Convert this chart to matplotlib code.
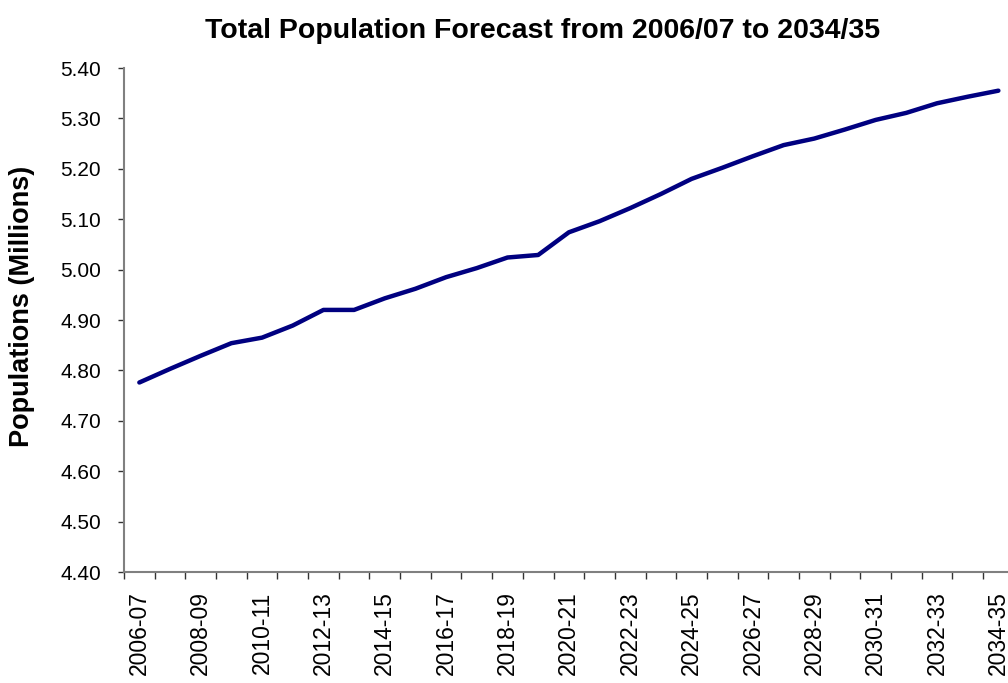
import numpy as np
import matplotlib
matplotlib.use("Agg")
import matplotlib.pyplot as plt
from matplotlib.ticker import FixedLocator, FixedFormatter

##### DATA #####
years = ["2006-07", "2007-08", "2008-09", "2009-10", "2010-11", "2011-12",
         "2012-13", "2013-14", "2014-15", "2015-16", "2016-17", "2017-18",
         "2018-19", "2019-20", "2020-21", "2021-22", "2022-23", "2023-24",
         "2024-25", "2025-26", "2026-27", "2027-28", "2028-29", "2029-30",
         "2030-31", "2031-32", "2032-33", "2033-34", "2034-35"]
population = [4.776, 4.803, 4.829, 4.854, 4.865, 4.889,
              4.920, 4.920, 4.943, 4.962, 4.985, 5.003,
              5.024, 5.029, 5.074, 5.096, 5.122, 5.150,
              5.180, 5.202, 5.225, 5.247, 5.260, 5.278,
              5.297, 5.311, 5.330, 5.343, 5.355]
yticks = [4.40, 4.50, 4.60, 4.70, 4.80, 4.90, 5.00, 5.10, 5.20, 5.30, 5.40]

plt.rcParams['font.family'] = ['Liberation Sans', 'DejaVu Sans']

W, H = 1008, 683
fig = plt.figure(figsize=(W / 100, H / 100), dpi=100, facecolor='white')

# plot area: categories spaced ~30.7px, last half slot runs past the right edge
n = len(years)
left, bottom, top = 124, 572, 68
slot = 30.68
ax = fig.add_axes([left / W, (H - bottom) / H, n * slot / W, (bottom - top) / H])

x = np.arange(n)
ax.plot(x, population, color='#000080', linewidth=3.2, solid_joinstyle='round',
        solid_capstyle='round', clip_on=False)

ax.set_xlim(-0.5, n - 0.5)
ax.set_ylim(4.40, 5.40)

# y axis
ax.set_yticks(yticks)
ax.set_yticklabels([f"{v:.2f}" for v in yticks])
ax.tick_params(axis='y', direction='out', length=4.5, width=1.0, color='#333333',
               labelsize=15, pad=12)

# x axis: tick marks between categories, label every second category
ax.xaxis.set_major_locator(FixedLocator(x[::2]))
ax.xaxis.set_major_formatter(FixedFormatter(years[::2]))
ax.xaxis.set_minor_locator(FixedLocator(np.arange(n + 1) - 0.5))
ax.tick_params(axis='x', which='major', length=0, labelsize=16.5, pad=14,
               labelrotation=90)
ax.tick_params(axis='x', which='minor', direction='out', length=5, width=1.0,
               color='#333333')

for s in ['top', 'right']:
    ax.spines[s].set_visible(False)
for s in ['left', 'bottom']:
    ax.spines[s].set_color('#808080')
    ax.spines[s].set_linewidth(1.5)

fig.text(543 / W, 1 - 31 / H, "Total Population Forecast from 2006/07 to 2034/35",
         ha='center', va='center', fontsize=20.5, fontweight='bold')
fig.text(22 / W, 1 - 306 / H, "Populations (Millions)", rotation=90,
         ha='center', va='center', fontsize=19.5, fontweight='bold')

fig.savefig("out.png", dpi=100, facecolor='white')
